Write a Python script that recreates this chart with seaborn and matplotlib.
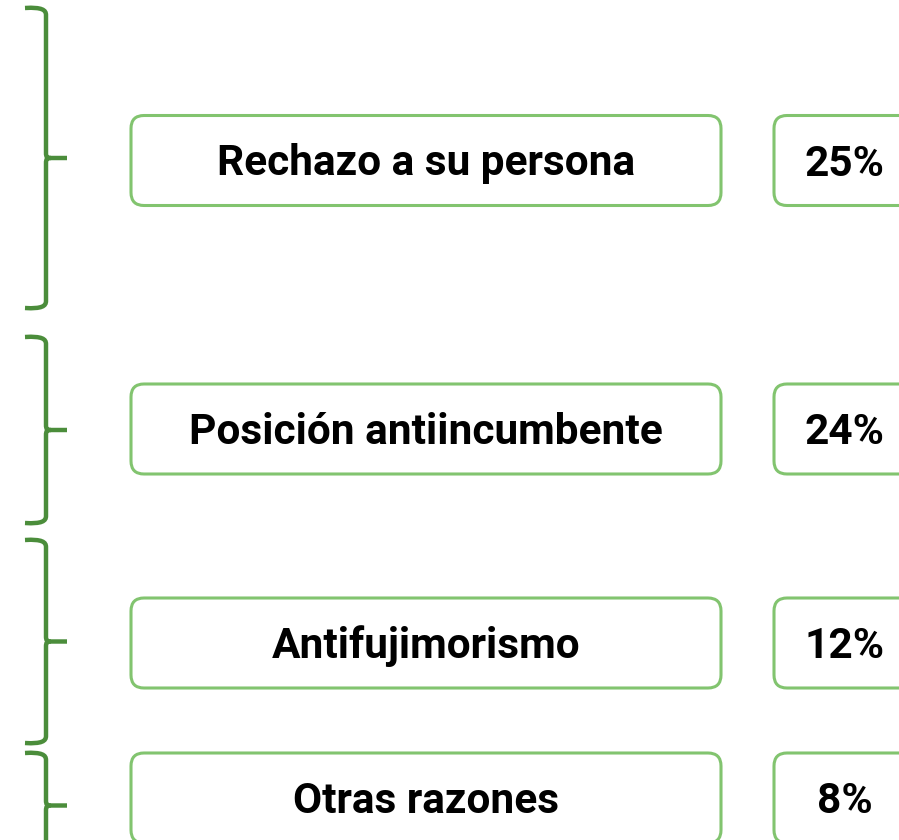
import matplotlib
matplotlib.use("Agg")
import matplotlib.pyplot as plt
import seaborn as sns
from matplotlib.patches import FancyBboxPatch
from matplotlib.path import Path
from matplotlib.patches import PathPatch

# data
reasons = ["Rechazo a su persona", "Posición antiincumbente", "Antifujimorismo", "Otras razones"]
shares = [25, 24, 12, 8]

# layout (pixel units, y grows downward)
box_centers = [160.5, 429, 643, 798]
bracket_spans = [(8, 308), (337, 523), (540, 743), (753, 858)]
box_h = 90

BRACKET = "#4b8d3b"
EDGE = "#82c46f"

sns.set_style("white")
plt.rcParams["font.family"] = ["Roboto", "DejaVu Sans"]

fig = plt.figure(figsize=(8.99, 8.40), dpi=100)
ax = fig.add_axes([0, 0, 1, 1])
ax.set_xlim(0, 899)
ax.set_ylim(840, 0)
ax.axis("off")


def bracket(ax, top, bottom, x=46, left=25, tip=67):
    mid = (top + bottom) / 2
    r = 5
    verts = [
        (left, top), (x - 4, top - 1), (x, top + 2), (x, top + 7),
        (x, mid - r),
        (x, mid - 1), (x + 1, mid), (x + 5, mid),
        (tip, mid),
    ]
    codes = [Path.MOVETO, Path.CURVE4, Path.CURVE4, Path.CURVE4,
             Path.LINETO,
             Path.CURVE4, Path.CURVE4, Path.CURVE4,
             Path.LINETO]
    ax.add_patch(PathPatch(Path(verts, codes), fill=False, edgecolor=BRACKET,
                           lw=3.2, capstyle="butt", joinstyle="miter"))
    verts2 = [
        (x + 5, mid), (x + 1, mid), (x, mid + 1), (x, mid + r),
        (x, bottom - 7),
        (x, bottom - 2), (x - 4, bottom + 1), (left, bottom),
    ]
    codes2 = [Path.MOVETO, Path.CURVE4, Path.CURVE4, Path.CURVE4,
              Path.LINETO,
              Path.CURVE4, Path.CURVE4, Path.CURVE4]
    ax.add_patch(PathPatch(Path(verts2, codes2), fill=False, edgecolor=BRACKET,
                           lw=3.2, capstyle="butt", joinstyle="miter"))


for (top, bottom) in bracket_spans:
    bracket(ax, top, bottom)

for label, val, yc in zip(reasons, shares, box_centers):
    y0 = yc - box_h / 2
    ax.add_patch(FancyBboxPatch((131, y0), 590, box_h,
                                boxstyle="round,pad=0,rounding_size=13",
                                fc="white", ec=EDGE, lw=2.2))
    ax.add_patch(FancyBboxPatch((774, y0), 180, box_h,
                                boxstyle="round,pad=0,rounding_size=13",
                                fc="white", ec=EDGE, lw=2.2))
    ax.text(426, yc + 3.5, label, ha="center", va="center",
            fontsize=30.5, fontweight="bold", color="black")
    ax.text(845, yc + 3.5, f"{val}%", ha="center", va="center",
            fontsize=30.5, fontweight="bold", color="black")

fig.savefig("out.png", dpi=100, facecolor="white")
